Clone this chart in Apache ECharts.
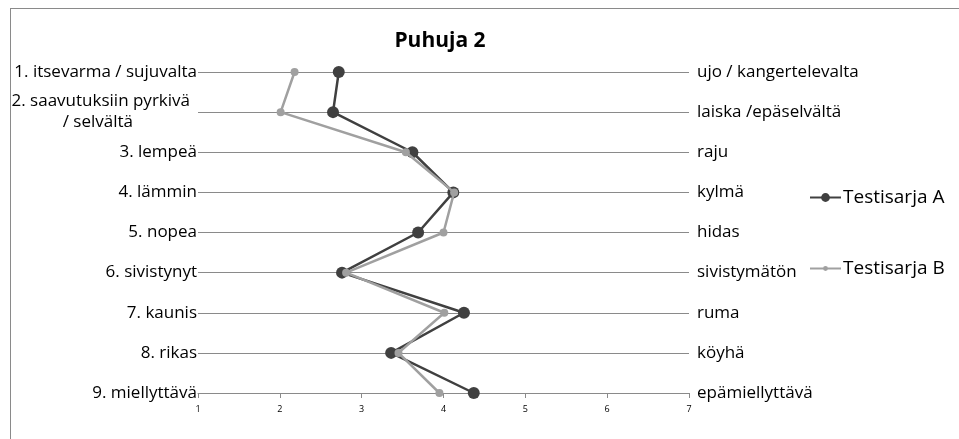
<!DOCTYPE html>
<html>
<head>
<meta charset="utf-8">
<script src="https://cdn.jsdelivr.net/npm/echarts@6/dist/echarts.min.js"></script>
<style>
html,body{margin:0;padding:0;background:#fff;}
#frame{position:absolute;left:10px;top:8px;width:960px;height:440px;border-left:1px solid #8a8a8a;border-top:1px solid #8a8a8a;}
#chart{position:absolute;left:0;top:0;width:959px;height:439px;}
</style>
</head>
<body>
<div id="frame"></div>
<div id="chart"></div>
<script>
var title = 'Puhuja 2';
var leftLabels = ['1. itsevarma / sujuvalta', '2. saavutuksiin pyrkivä\n/ selvältä', '3. lempeä', '4. lämmin', '5. nopea', '6. sivistynyt', '7. kaunis', '8. rikas', '9. miellyttävä'];
var rightLabels = ['ujo / kangertelevalta', 'laiska /epäselvältä', 'raju', 'kylmä', 'hidas', 'sivistymätön', 'ruma', 'köyhä', 'epämiellyttävä'];
var seriesAName = 'Testisarja A';
var seriesBName = 'Testisarja B';
var seriesA = [2.72, 2.65, 3.62, 4.12, 3.69, 2.76, 4.25, 3.36, 4.37];
var seriesB = [2.18, 2.01, 3.54, 4.13, 4.00, 2.81, 4.01, 3.45, 3.95];
var xMin = 1, xMax = 7, xStep = 1;

var FONT = 'Open Sans';
var LS = 17;
var chart = echarts.init(document.getElementById('chart'));
chart.setOption({
  animation: false,
  title: {
    text: title, left: 435, top: 26, textAlign: 'center',
    textStyle: {fontFamily: FONT, fontSize: 21, fontWeight: 'bold', color: '#000'}
  },
  legend: [
    {data: [seriesAName], orient: 'vertical', left: 809, top: 188, padding: 0, itemWidth: 31, itemHeight: 11, itemGap: 0,
     textStyle: {fontFamily: FONT, fontSize: 19, color: '#000', padding: [0, 0, 0, -3]}},
    {data: [seriesBName], orient: 'vertical', left: 809, top: 259, padding: 0, itemWidth: 31, itemHeight: 6, itemGap: 0,
     textStyle: {fontFamily: FONT, fontSize: 19, color: '#000', padding: [0, 0, 0, -3]}}
  ],
  grid: {left: 198, right: 270, top: 72, bottom: 46, containLabel: false},
  xAxis: {
    type: 'value', min: xMin, max: xMax, interval: xStep,
    axisLine: {show: true, lineStyle: {color: '#8a8a8a', width: 1}},
    axisTick: {show: true, length: 5, lineStyle: {color: '#8a8a8a'}},
    axisLabel: {fontFamily: FONT, fontSize: 9, color: '#000', margin: 12},
    splitLine: {show: false}
  },
  yAxis: [
    {
      type: 'category', data: leftLabels, inverse: true, boundaryGap: false, position: 'left',
      axisLine: {show: false}, axisTick: {show: false},
      splitLine: {show: true, lineStyle: {color: '#8a8a8a', width: 1}},
      axisLabel: {
        margin: 1, fontFamily: FONT, fontSize: LS, color: '#000',
        formatter: function (v) {
          var parts = v.split('\n');
          if (parts.length === 1) return v;
          return '{a|' + parts[0] + '}\n{b|' + parts[1] + '}';
        },
        rich: {
          a: {fontFamily: FONT, fontSize: LS, color: '#000', padding: [0, 7, 2, 0]},
          b: {fontFamily: FONT, fontSize: LS, color: '#000', padding: [2, 64, 0, 0]}
        }
      }
    },
    {
      type: 'category', data: rightLabels, inverse: true, boundaryGap: false, position: 'right',
      axisLine: {show: false}, axisTick: {show: false}, splitLine: {show: false},
      axisLabel: {margin: 8, fontFamily: FONT, fontSize: LS, color: '#000'}
    }
  ],
  series: [
    {
      name: seriesAName, type: 'line', data: seriesA, yAxisIndex: 0,
      symbol: 'circle', symbolSize: 12,
      lineStyle: {color: '#404040', width: 2.5},
      itemStyle: {color: '#404040'}, z: 2
    },
    {
      name: seriesBName, type: 'line', data: seriesB, yAxisIndex: 0,
      symbol: 'circle', symbolSize: 8,
      lineStyle: {color: '#a0a0a0', width: 2.5},
      itemStyle: {color: '#a0a0a0'}, z: 3
    }
  ]
});
</script>
</body>
</html>
